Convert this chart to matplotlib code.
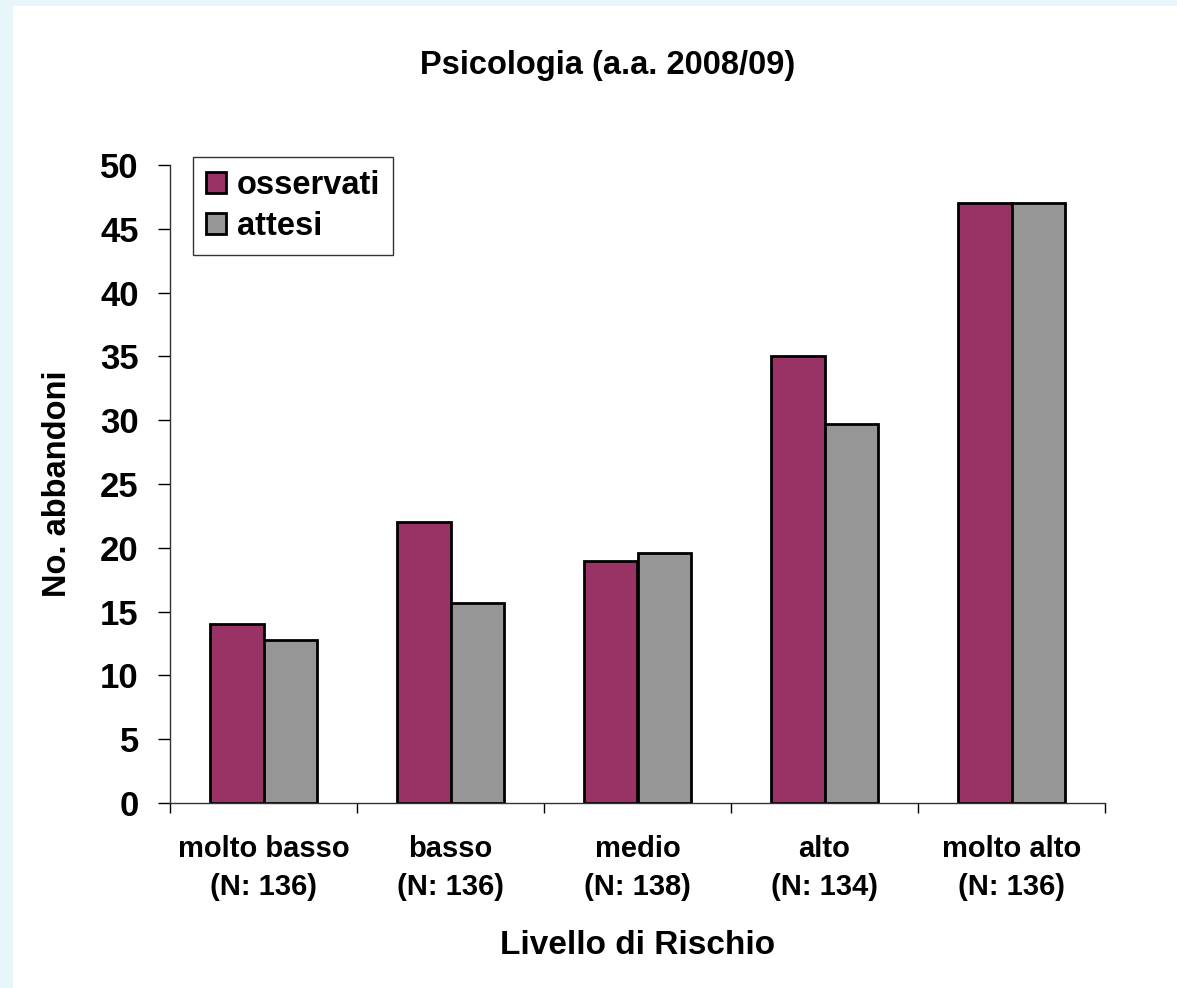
import numpy as np
import matplotlib.pyplot as plt
from matplotlib.patches import Rectangle

plt.rcParams['font.family'] = ['Liberation Sans', 'DejaVu Sans']
plt.rcParams['font.weight'] = 'bold'

livelli = ['molto basso', 'basso', 'medio', 'alto', 'molto alto']
numerosita = [136, 136, 138, 134, 136]
osservati = [14, 22, 19, 35, 47]
attesi = [12.8, 15.7, 19.6, 29.7, 47]

fig = plt.figure(figsize=(11.77, 9.88), dpi=100)
fig.patch.set_facecolor('#e6f6fa')
# white slide panel
fig.patches.append(Rectangle((13 / 1177, 0), 1, 1 - 6 / 988, transform=fig.transFigure,
                             facecolor='white', edgecolor='none', zorder=-5))

ax = fig.add_axes([170 / 1177, 1 - 803 / 988, 935 / 1177, 638 / 988])
ax.set_facecolor('none')

x = np.arange(len(livelli))
w = 0.285
ax.bar(x - w / 2, osservati, w, color='#993366', edgecolor='black', linewidth=2, label='osservati')
ax.bar(x + w / 2, attesi, w, color='#969696', edgecolor='black', linewidth=2, label='attesi')

ax.set_xlim(-0.5, len(livelli) - 0.5)
ax.set_ylim(0, 50)
ax.set_yticks(range(0, 51, 5))
ax.tick_params(axis='y', direction='out', length=8.5, width=1, labelsize=25, pad=14)
ax.set_xticks(np.arange(-0.5, len(livelli), 1))
ax.set_xticklabels([])
ax.set_xticks(x, minor=True)
ax.set_xticklabels([f'{l}\n(N: {n})' for l, n in zip(livelli, numerosita)], minor=True,
                   fontsize=21, fontweight='bold', linespacing=1.45)
ax.tick_params(axis='x', which='major', direction='out', length=7, width=1)
ax.tick_params(axis='x', which='minor', length=0, pad=23)
for lab in ax.get_yticklabels():
    lab.set_fontweight('bold')

ax.spines['top'].set_visible(False)
ax.spines['right'].set_visible(False)
for s in ['left', 'bottom']:
    ax.spines[s].set_color('#333333')
    ax.spines[s].set_linewidth(1)

ax.set_ylabel('No. abbandoni', fontsize=23.5, fontweight='bold')
ax.yaxis.set_label_coords((58 - 170) / 935, (803 - 484) / 638)
ax.yaxis.label.set_va('center')
ax.set_xlabel('Livello di Rischio', fontsize=24, fontweight='bold')
ax.xaxis.set_label_coords(0.5, (803 - 945) / 638)
ax.xaxis.label.set_va('center')

fig.text(608 / 1177, 1 - 74 / 988, 'Psicologia (a.a. 2008/09)', ha='center', va='baseline',
         fontsize=23.5, fontweight='bold')

leg = ax.legend(loc='upper left', bbox_to_anchor=(23 / 935, 1 + 8 / 638), fontsize=23.5,
                frameon=True, fancybox=False, handlelength=0.6, handleheight=0.6,
                handletextpad=0.35, borderpad=0.4, labelspacing=0.3, borderaxespad=0)
leg.get_frame().set_edgecolor('black')
leg.get_frame().set_linewidth(1)
for t in leg.get_texts():
    t.set_fontweight('bold')

fig.savefig('out.png', dpi=100)
